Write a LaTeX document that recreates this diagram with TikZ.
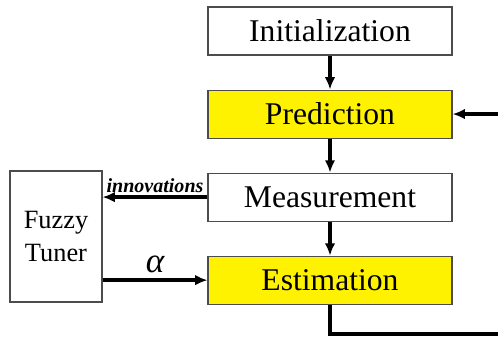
\documentclass[tikz,border=0pt]{standalone}
\usepackage{fontspec}
\setmainfont{Liberation Serif}
\usetikzlibrary{positioning,arrows.meta}
\begin{document}
\begin{tikzpicture}[>={Latex[length=7pt,width=6pt]},
  every node/.style={font=\fontsize{18}{20}\selectfont},
  block/.style={draw=black!70, line width=0.6pt, minimum width=4.88cm, minimum height=0.96cm, inner sep=0pt},
  hilite/.style={block, fill=yellow},
  flow/.style={->, line width=2pt}]
  \useasboundingbox (0,0) rectangle (9.96,6.76);

  \node[block] (Init) at (6.6,6.14) {Initialization};
  \node[hilite, below=0.68cm of Init] (Pred) {Prediction};
  \node[block, below=0.68cm of Pred] (Meas) {Measurement};
  \node[hilite, below=0.68cm of Meas] (Est) {Estimation};
  \node[block, minimum width=1.84cm, minimum height=2.62cm, align=center,
    font=\fontsize{15}{19}\selectfont] (Tuner) at (1.12,2.03) {Fuzzy\\Tuner};

  \coordinate (Turn) at (10.3,0.08);

  \draw[flow] (Init) -- (Pred);
  \draw[flow] (Pred) -- (Meas);
  \draw[flow] (Meas) -- (Est);
  \draw[flow] (Meas.west) -- (Tuner.east |- Meas.west)
    node[midway, above, inner sep=1.5pt, font=\fontsize{11.4}{13}\selectfont\bfseries\itshape] {innovations};
  \draw[flow] (Tuner.east |- Est.west) -- (Est.west)
    node[midway, above, font=\fontsize{20}{20}\selectfont\itshape] {α};
  \draw[flow] (Est.south) |- (Turn) |- (Pred.east);
\end{tikzpicture}
\end{document}
